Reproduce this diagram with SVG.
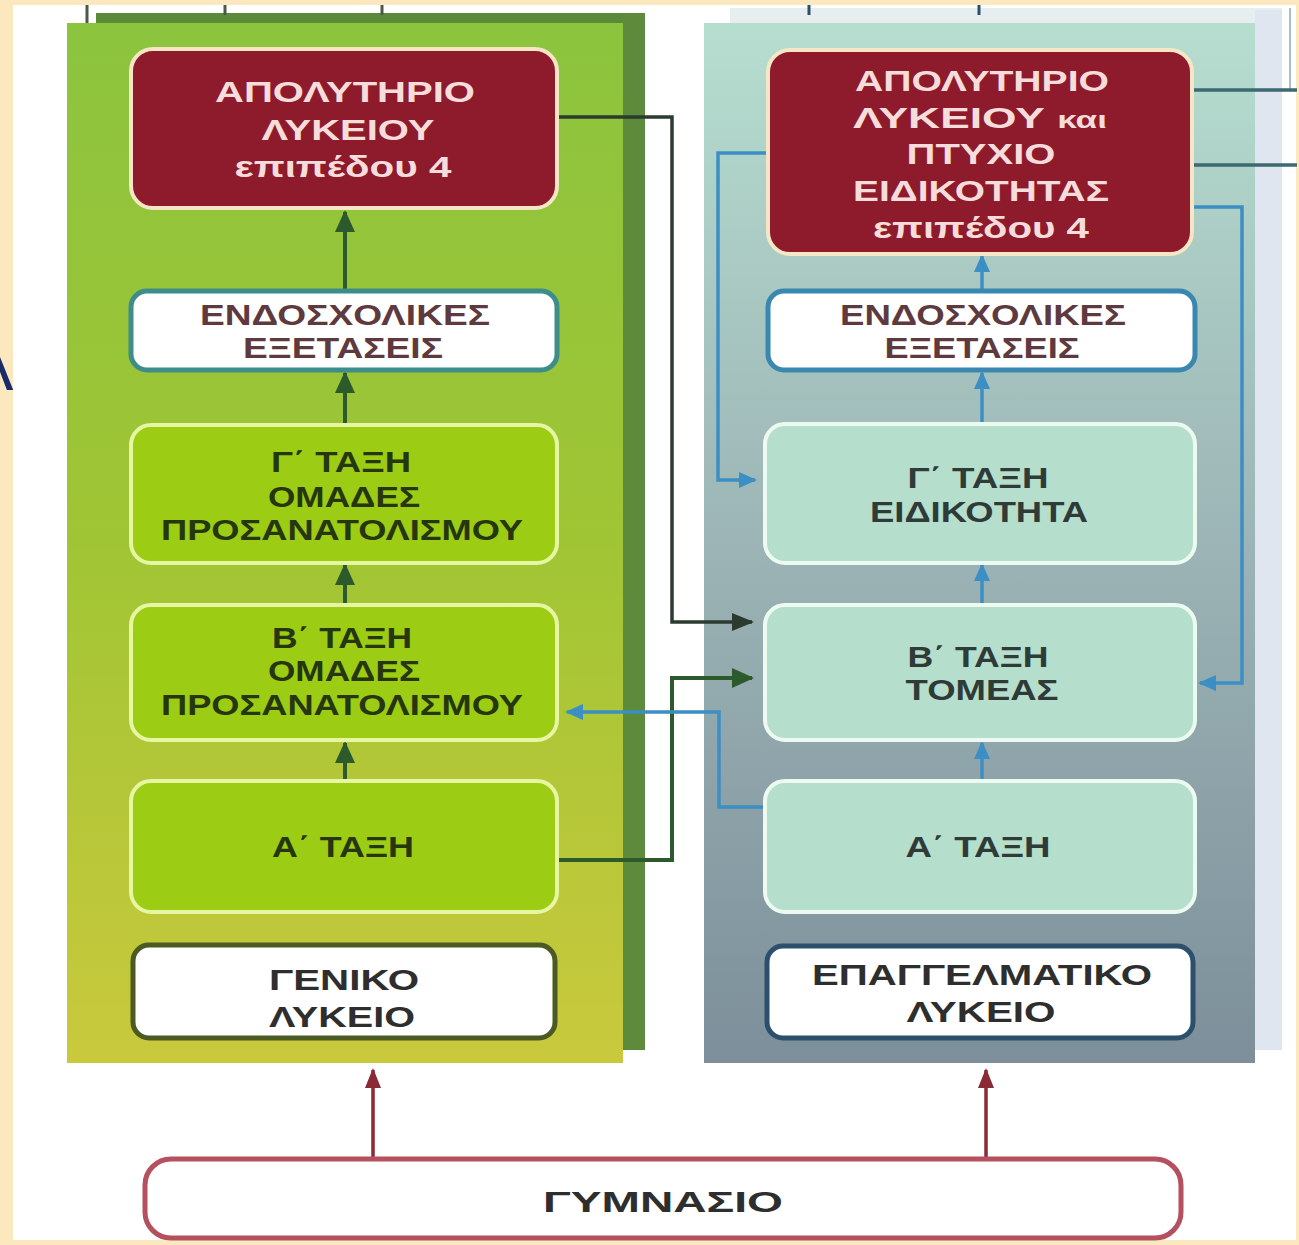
<svg xmlns="http://www.w3.org/2000/svg" width="1299" height="1245" viewBox="0 0 1299 1245">
<style>
text{font-family:"Liberation Sans",Arial,sans-serif;font-weight:bold;font-size:29px;text-anchor:middle}
.tw{fill:#f7dcdc}
.tm{fill:#5e3a3e}
.tg{fill:#26360e}
.tt{fill:#2f3b38}
.tk{fill:#2e2e2e}
.red{fill:#8e1b2b;stroke:#f6e6c6;stroke-width:4}
.gn{fill:#9ccc14;stroke:#e6f6a2;stroke-width:4}
.mn{fill:#b5dfcc;stroke:#ecfaf2;stroke-width:4}
.dk{fill:none;stroke:#2b3b30;stroke-width:3.5}
.bl{fill:none;stroke:#3c8fc4;stroke-width:3.5}
.gr{fill:none;stroke:#2d5a2d;stroke-width:4}
.mr{fill:none;stroke:#8a2a35;stroke-width:3.5}
.tl{fill:none;stroke:#3d6a70;stroke-width:3.5}
</style>
<defs>
<linearGradient id="gL" x1="0" y1="0" x2="0" y2="1">
<stop offset="0" stop-color="#8cc43e"/><stop offset="0.5" stop-color="#a0c534"/><stop offset="1" stop-color="#c9c93c"/>
</linearGradient>
<linearGradient id="gR" x1="0" y1="0" x2="0" y2="1">
<stop offset="0" stop-color="#b6decf"/><stop offset="0.45" stop-color="#9fb8b8"/><stop offset="1" stop-color="#7c8f9a"/>
</linearGradient>
<marker id="aG" markerUnits="userSpaceOnUse" markerWidth="22" markerHeight="22" refX="20" refY="11" orient="auto"><path d="M0,1 L22,11 L0,21 z" fill="#2d5a2d"/></marker>
<marker id="aD" markerUnits="userSpaceOnUse" markerWidth="22" markerHeight="22" refX="20" refY="11" orient="auto"><path d="M0,2 L22,11 L0,20 z" fill="#2b3b30"/></marker>
<marker id="aB" markerUnits="userSpaceOnUse" markerWidth="18" markerHeight="18" refX="16" refY="9" orient="auto"><path d="M0,1 L18,9 L0,17 z" fill="#3c8fc4"/></marker>
<marker id="aM" markerUnits="userSpaceOnUse" markerWidth="20" markerHeight="20" refX="18" refY="10" orient="auto"><path d="M0,2 L20,10 L0,18 z" fill="#8a2a35"/></marker>
</defs>
<rect x="0" y="0" width="1299" height="1245" fill="#fce8be"/>
<rect x="13" y="5" width="1283" height="1235" fill="#ffffff"/>
<text x="-8" y="390" style="font-family:'Liberation Sans',sans-serif;font-weight:normal;font-size:64px;fill:#1a2a6a">Λ</text>
<rect x="13" y="5" width="0" height="0"/>

<g id="panel-left">
<rect x="96" y="13" width="549" height="12" fill="#5a8a3a"/>
<rect x="623" y="13" width="22" height="1037" fill="#5e8b3b"/>
<rect x="67" y="23" width="556" height="1040" fill="url(#gL)"/>
<path d="M87,5 V23 M225,5 V15 M382,5 V15" stroke="#4a5a4a" stroke-width="3" fill="none"/>
</g>
<g id="panel-right">
<rect x="730" y="8" width="552" height="16" fill="#e6eef0"/>
<rect x="1255" y="10" width="27" height="1040" fill="#dfe6ef"/>
<rect x="704" y="23" width="551" height="1040" fill="url(#gR)"/>
<path d="M809,5 V15 M979,5 V15" stroke="#2c4f6e" stroke-width="3" fill="none"/>
<path d="M1290,8 V90" stroke="#a8c0d0" stroke-width="2" fill="none"/>
</g>

<g id="connectors">
<path class="gr" d="M345,290 V212" marker-end="url(#aG)"/>
<path class="gr" d="M345,424 V373" marker-end="url(#aG)"/>
<path class="gr" d="M345,604 V565" marker-end="url(#aG)"/>
<path class="gr" d="M345,780 V743" marker-end="url(#aG)"/>
<path class="bl" d="M982,290 V256" marker-end="url(#aB)"/>
<path class="bl" d="M982,423 V373" marker-end="url(#aB)"/>
<path class="bl" d="M982,604 V565" marker-end="url(#aB)"/>
<path class="bl" d="M982,780 V743" marker-end="url(#aB)"/>
<path class="dk" d="M558,117 H672 V622 H752" marker-end="url(#aD)"/>
<path class="gr" d="M558,860 H672 V678 H752" marker-end="url(#aG)"/>
<path class="bl" d="M766,807 H719 V712 H567" marker-end="url(#aB)"/>
<path class="bl" d="M768,153 H718 V480 H755" marker-end="url(#aB)"/>
<path class="bl" d="M1194,207 H1242 V683 H1200" marker-end="url(#aB)"/>
<path class="tl" d="M1194,90 H1297 M1194,165 H1297"/>
<path class="mr" d="M373,1158 V1070" marker-end="url(#aM)"/>
<path class="mr" d="M986,1158 V1070" marker-end="url(#aM)"/>
</g>

<g id="n-apol-gen">
<rect class="red" x="131" y="49" width="426" height="159" rx="22"/>
<text class="tw" x="345" y="102" textLength="260" lengthAdjust="spacingAndGlyphs">ΑΠΟΛΥΤΗΡΙΟ</text>
<text class="tw" x="348" y="140" textLength="173" lengthAdjust="spacingAndGlyphs">ΛΥΚΕΙΟΥ</text>
<text class="tw" x="343" y="177" textLength="217" lengthAdjust="spacingAndGlyphs">επιπέδου 4</text>
</g>
<g id="n-endo-gen">
<rect x="131" y="291" width="426" height="79" rx="16" fill="#ffffff" stroke="#3f8d8a" stroke-width="5"/>
<text class="tm" x="345" y="325" textLength="290" lengthAdjust="spacingAndGlyphs">ΕΝΔΟΣΧΟΛΙΚΕΣ</text>
<text class="tm" x="343" y="358" textLength="200" lengthAdjust="spacingAndGlyphs">ΕΞΕΤΑΣΕΙΣ</text>
</g>
<g id="n-g-gen">
<rect class="gn" x="131" y="425" width="426" height="138" rx="20"/>
<text class="tg" x="341" y="472" textLength="140" lengthAdjust="spacingAndGlyphs">Γ΄ ΤΑΞΗ</text>
<text class="tg" x="344" y="507" textLength="152" lengthAdjust="spacingAndGlyphs">ΟΜΑΔΕΣ</text>
<text class="tg" x="342" y="540" textLength="362" lengthAdjust="spacingAndGlyphs">ΠΡΟΣΑΝΑΤΟΛΙΣΜΟΥ</text>
</g>
<g id="n-b-gen">
<rect class="gn" x="131" y="605" width="426" height="135" rx="20"/>
<text class="tg" x="342" y="648" textLength="140" lengthAdjust="spacingAndGlyphs">Β΄ ΤΑΞΗ</text>
<text class="tg" x="344" y="681" textLength="152" lengthAdjust="spacingAndGlyphs">ΟΜΑΔΕΣ</text>
<text class="tg" x="342" y="715" textLength="362" lengthAdjust="spacingAndGlyphs">ΠΡΟΣΑΝΑΤΟΛΙΣΜΟΥ</text>
</g>
<g id="n-a-gen">
<rect class="gn" x="131" y="781" width="426" height="131" rx="20"/>
<text class="tg" x="343" y="857" textLength="142" lengthAdjust="spacingAndGlyphs">Α΄ ΤΑΞΗ</text>
</g>
<g id="n-geniko">
<rect x="133" y="945" width="422" height="93" rx="16" fill="#ffffff" stroke="#4b5a22" stroke-width="5"/>
<text class="tk" x="344" y="990" textLength="150" lengthAdjust="spacingAndGlyphs">ΓΕΝΙΚΟ</text>
<text class="tk" x="342" y="1027" textLength="146" lengthAdjust="spacingAndGlyphs">ΛΥΚΕΙΟ</text>
</g>

<g id="n-apol-epa">
<rect class="red" x="768" y="50" width="424" height="204" rx="22"/>
<text class="tw" x="982" y="91" textLength="254" lengthAdjust="spacingAndGlyphs">ΑΠΟΛΥΤΗΡΙΟ</text>
<text class="tw" x="980" y="128" textLength="254" lengthAdjust="spacingAndGlyphs">ΛΥΚΕΙΟΥ  <tspan style="font-size:23px">και</tspan></text>
<text class="tw" x="981" y="164" textLength="149" lengthAdjust="spacingAndGlyphs">ΠΤΥΧΙΟ</text>
<text class="tw" x="981" y="201" textLength="256" lengthAdjust="spacingAndGlyphs">ΕΙΔΙΚΟΤΗΤΑΣ</text>
<text class="tw" x="981" y="238" textLength="216" lengthAdjust="spacingAndGlyphs">επιπέδου 4</text>
</g>
<g id="n-endo-epa">
<rect x="768" y="291" width="427" height="79" rx="16" fill="#ffffff" stroke="#3a88b0" stroke-width="5"/>
<text class="tm" x="983" y="325" textLength="286" lengthAdjust="spacingAndGlyphs">ΕΝΔΟΣΧΟΛΙΚΕΣ</text>
<text class="tm" x="982" y="358" textLength="195" lengthAdjust="spacingAndGlyphs">ΕΞΕΤΑΣΕΙΣ</text>
</g>
<g id="n-g-epa">
<rect class="mn" x="765" y="424" width="430" height="139" rx="20"/>
<text class="tt" x="978" y="488" textLength="141" lengthAdjust="spacingAndGlyphs">Γ΄ ΤΑΞΗ</text>
<text class="tt" x="979" y="522" textLength="218" lengthAdjust="spacingAndGlyphs">ΕΙΔΙΚΟΤΗΤΑ</text>
</g>
<g id="n-b-epa">
<rect class="mn" x="765" y="605" width="430" height="135" rx="20"/>
<text class="tt" x="978" y="667" textLength="141" lengthAdjust="spacingAndGlyphs">Β΄ ΤΑΞΗ</text>
<text class="tt" x="982" y="700" textLength="153" lengthAdjust="spacingAndGlyphs">ΤΟΜΕΑΣ</text>
</g>
<g id="n-a-epa">
<rect class="mn" x="765" y="781" width="430" height="131" rx="20"/>
<text class="tt" x="978" y="857" textLength="145" lengthAdjust="spacingAndGlyphs">Α΄ ΤΑΞΗ</text>
</g>
<g id="n-epal">
<rect x="767" y="946" width="426" height="92" rx="16" fill="#ffffff" stroke="#2c4f6e" stroke-width="5"/>
<text class="tk" x="982" y="985" textLength="340" lengthAdjust="spacingAndGlyphs">ΕΠΑΓΓΕΛΜΑΤΙΚΟ</text>
<text class="tk" x="981" y="1022" textLength="149" lengthAdjust="spacingAndGlyphs">ΛΥΚΕΙΟ</text>
</g>

<g id="n-gymnasio">
<rect x="145" y="1159" width="1036" height="79" rx="26" fill="#ffffff" stroke="#b5505f" stroke-width="5"/>
<text class="tk" x="663" y="1212" textLength="240" lengthAdjust="spacingAndGlyphs">ΓΥΜΝΑΣΙΟ</text>
</g>
</svg>
